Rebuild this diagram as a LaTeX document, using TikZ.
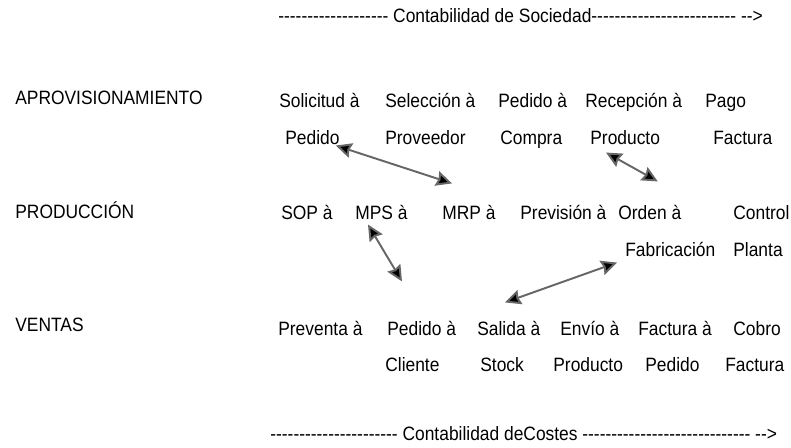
\documentclass[tikz,border=0pt]{standalone}
\usepackage{fontspec}
\setmainfont{Liberation Sans}[Ligatures=TeXOff,FakeStretch=0.9]
\usetikzlibrary{arrows.meta,calc}

\tikzset{
	every node/.style={font=\fontsize{11}{13}\selectfont, inner sep=0pt, anchor=base west},
	link/.style={<->, draw=black!60, line width=1.1pt},
}

\begin{document}
\begin{tikzpicture}[x=0.02cm, y=-0.02cm, >={Stealth[length=9pt,width=8.5pt,inset=1pt,fill=black]}]

			\useasboundingbox (0,0) rectangle (791,447);

			% headings
			\node (sociedad) at (278,22) {------------------- Contabilidad de Sociedad------------------------- -->};
			\node (costes) at (270,440) {---------------------- Contabilidad deCostes ----------------------------- -->};

			% areas
			\foreach \l/\y [count=\i] in {APROVISIONAMIENTO/104, PRODUCCIÓN/218, VENTAS/331}
				\node (area-\i) at (15,\y) {\l};

			% aprovisionamiento
			\foreach \l/\x [count=\i] in {Solicitud à/279, Selección à/385, Pedido à/498, Recepción à/585, Pago/705}
				\node (apro-\i) at (\x,107) {\l};
			\foreach \l/\x [count=\i] in {Pedido/285, Proveedor/385, Compra/500, Producto/590, Factura/713}
				\node (apro2-\i) at (\x,144) {\l};

			% produccion
			\foreach \l/\x [count=\i] in {SOP à/281, MPS à/355, MRP à/442, Previsión à/520, Orden à/618, Control/733}
				\node (prod-\i) at (\x,219) {\l};
			\foreach \l/\x [count=\i from 5] in {Fabricación/625, Planta/733}
				\node (prod2-\i) at (\x,256) {\l};

			% ventas
			\foreach \l/\x [count=\i] in {Preventa à/278, Pedido à/387, Salida à/477, Envío à/560, Factura à/638, Cobro/733}
				\node (vent-\i) at (\x,335) {\l};
			\foreach \l/\x [count=\i from 2] in {Cliente/385, Stock/480, Producto/553, Pedido/645, Factura/725}
				\node (vent2-\i) at (\x,371) {\l};

			% links between areas
			\draw [link] ($(apro2-1.south east)+(-4,1)$) -- ($(prod-3.north west)+(10,-21)$);
			\draw [link] ($(apro2-4.south west)+(16,8)$) -- ($(prod-5.north)+(8,-23)$);
			\draw [link] ($(prod-2.south west)+(13,5)$) -- ($(vent-2.north west)+(15,-39)$);
			\draw [link] ($(prod2-5.south west)+(-8,6)$) -- ($(vent-3.north west)+(28,-18)$);

\end{tikzpicture}
\end{document}
